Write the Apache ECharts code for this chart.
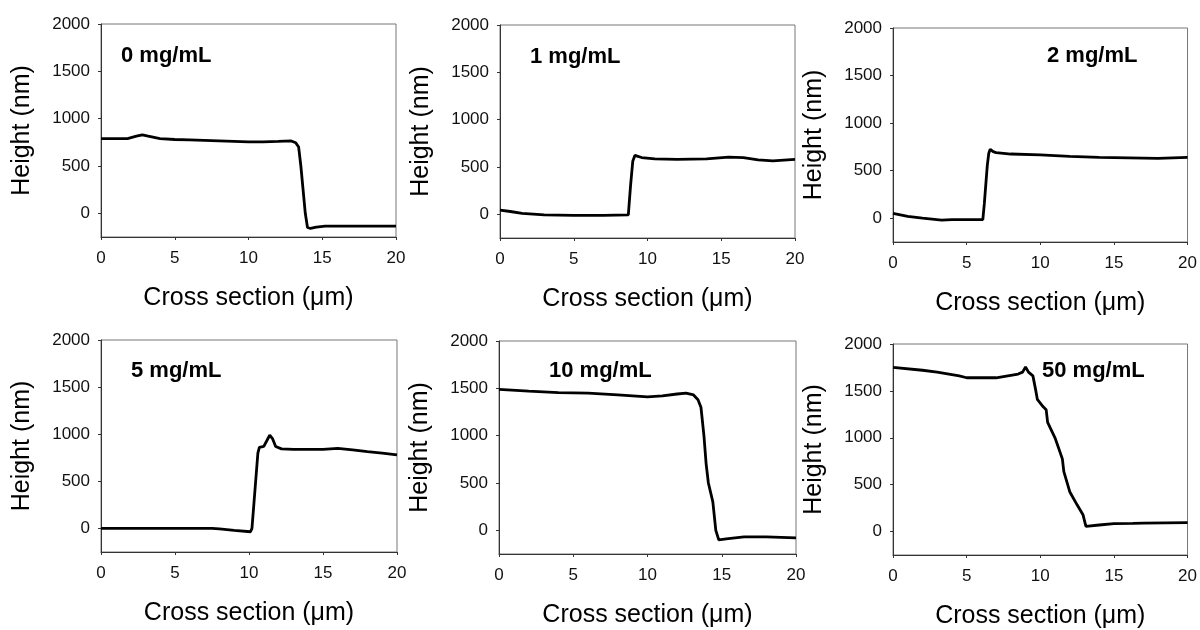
<!DOCTYPE html>
<html>
<head>
<meta charset="utf-8">
<script src="https://cdn.jsdelivr.net/npm/echarts@6/dist/echarts.min.js"></script>
<style>
html,body{margin:0;padding:0;background:#fff;}
#chart{width:1200px;height:630px;}
</style>
</head>
<body>
<div id="chart"></div>
<script>
// ---- data (x in µm, height in nm) ----
const panelLabels = ['0 mg/mL', '1 mg/mL', '2 mg/mL', '5 mg/mL', '10 mg/mL', '50 mg/mL'];
const xTicks = [0, 5, 10, 15, 20];
const yTicks = [0, 500, 1000, 1500, 2000];
const xTitle = 'Cross section (μm)';
const yTitle = 'Height (nm)';

const profile0 = [[0,790],[1,790],[1.8,790],[2.4,815],[2.8,828],[3.2,815],[4,790],[5,780],[6,775],[7,770],[8,765],[9,760],[10,755],[11,755],[12,760],[12.9,765],[13.2,745],[13.4,700],[13.55,500],[13.7,250],[13.85,0],[14.0,-150],[14.2,-160],[14.6,-145],[15.2,-135],[17,-135],[20,-135]];
const profile1 = [[0,45],[0.7,30],[1.5,10],[3,-5],[5,-10],[7,-10],[8.7,-5],[8.85,300],[9.0,560],[9.15,625],[9.3,615],[9.6,600],[10.5,585],[12,580],[14,585],[15.5,605],[16.5,600],[17.5,575],[18.5,565],[20,580]];
const profile2 = [[0,50],[1,20],[2,0],[3.3,-20],[4,-15],[6.1,-15],[6.2,150],[6.4,550],[6.5,680],[6.6,725],[6.8,700],[7,690],[8,675],[10,665],[12,650],[14,640],[16,635],[18,630],[20,640]];
const profile3 = [[0,0],[4,0],[7.5,0],[8,-5],[9,-20],[10.1,-35],[10.2,0],[10.4,400],[10.6,800],[10.7,860],[11,870],[11.1,870],[11.3,960],[11.4,990],[11.6,950],[11.8,870],[12.2,845],[13,840],[15,840],[16,850],[17,835],[18,815],[19,800],[20,780]];
const profile4 = [[0,1490],[2,1470],[4,1455],[6,1450],[8,1430],[10,1410],[11,1420],[12,1440],[12.6,1450],[13.1,1430],[13.4,1380],[13.6,1300],[13.8,1000],[13.95,700],[14.1,500],[14.4,300],[14.6,0],[14.8,-100],[15.3,-90],[16.5,-70],[18,-70],[20,-80]];
const profile5 = [[0,1750],[2,1720],[3,1700],[4.5,1660],[5,1640],[7,1640],[8.5,1680],[8.8,1700],[9.0,1755],[9.2,1700],[9.5,1660],[9.6,1640],[9.7,1500],[9.8,1410],[10.2,1330],[10.4,1300],[10.5,1165],[11.0,1000],[11.5,775],[11.6,640],[12.0,425],[12.5,285],[12.9,180],[13.1,55],[13.2,55],[14,70],[15,85],[16.3,88],[17,90],[20,95]];
const profiles = [profile0, profile1, profile2, profile3, profile4, profile5];

// ---- layout ----
const grids = [
  {left:101, top:24, width:295, height:213},
  {left:500, top:25, width:295, height:213},
  {left:893, top:28, width:296, height:214},
  {left:101, top:340, width:296, height:212},
  {left:499, top:341, width:297, height:213},
  {left:893, top:344, width:295, height:213}
];
const labelPos = [
  {left:121, top:45}, {left:530, top:46}, {left:1047, top:45},
  {left:131, top:360}, {left:549, top:360}, {left:1042, top:360}
];

const FONT = '"Liberation Sans", Arial, sans-serif';
const plain = v => String(v);
const option = {
  backgroundColor: '#fff',
  animation: false,
  textStyle: {fontFamily: FONT},
  title: panelLabels.map((t, i) => ({
    text: t, left: labelPos[i].left, top: labelPos[i].top, padding: 0,
    textStyle: {fontFamily: FONT, fontSize: 22, fontWeight: 'bold', color: '#000'}
  })),
  grid: grids.map(g => Object.assign({show: true, borderColor: '#777', borderWidth: 1, backgroundColor: 'transparent'}, g)),
  xAxis: grids.map((g, i) => ({
    type: 'value', gridIndex: i, min: 0, max: 20, interval: 5,
    name: xTitle, nameLocation: 'middle', nameGap: 49,
    nameTextStyle: {fontFamily: FONT, fontSize: 25, color: '#000'},
    axisLine: {show: true, onZero: false, lineStyle: {color: '#333', width: 1}},
    axisTick: {show: true, length: 3, lineStyle: {color: '#333'}, customValues: xTicks},
    axisLabel: {fontFamily: FONT, fontSize: 17, color: '#111', margin: 13, customValues: xTicks, formatter: plain},
    splitLine: {show: false}
  })),
  yAxis: grids.map((g, i) => ({
    type: 'value', gridIndex: i, min: -250, max: 2000,
    name: yTitle, nameLocation: 'middle', nameGap: 66, nameRotate: 90,
    nameTextStyle: {fontFamily: FONT, fontSize: 25, color: '#000'},
    axisLine: {show: true, onZero: false, lineStyle: {color: '#333', width: 1}},
    axisTick: {show: true, length: 3, lineStyle: {color: '#333'}, customValues: yTicks},
    axisLabel: {fontFamily: FONT, fontSize: 17, color: '#111', margin: 11, customValues: yTicks, formatter: plain},
    splitLine: {show: false}
  })),
  series: profiles.map((p, i) => ({
    type: 'line', xAxisIndex: i, yAxisIndex: i, data: p,
    showSymbol: false, symbol: 'none',
    lineStyle: {color: '#000', width: 2.8}, silent: true
  }))
};
const chart = echarts.init(document.getElementById('chart'), null, {renderer: 'canvas'});
chart.setOption(option);
</script>
</body>
</html>
